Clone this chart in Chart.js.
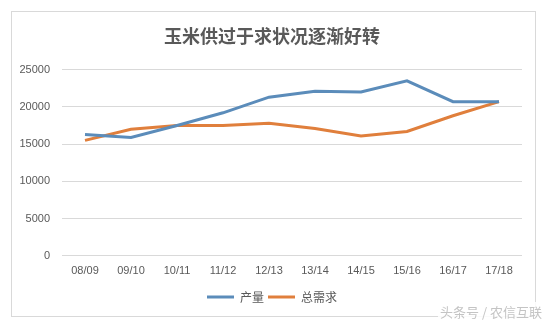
<!DOCTYPE html>
<html>
<head>
<meta charset="utf-8">
<script src="https://cdn.jsdelivr.net/npm/chart.js@4/dist/chart.umd.min.js"></script>
<style>
  html, body { margin: 0; padding: 0; background: #ffffff; }
  #wrap { position: relative; width: 544px; height: 325px; overflow: hidden; }
  #c { position: absolute; left: 0; top: 0; }
  #wm { position: absolute; left: 438px; top: 302px; font: 13px "Noto Sans CJK SC", sans-serif; color: #c4c4c4; background: rgba(255,255,255,0.85); padding: 0 2px; white-space: nowrap; }
</style>
</head>
<body>
<div id="wrap">
  <canvas id="c" width="544" height="325"></canvas>
  <div id="wm">头条号 / 农信互联</div>
</div>
<script>
const titleText = "玉米供过于求状况逐渐好转";
const categories = ["08/09", "09/10", "10/11", "11/12", "12/13", "13/14", "14/15", "15/16", "16/17", "17/18"];
const seriesNames = ["产量", "总需求"];
const production = [16300, 15900, 17500, 19200, 21300, 22100, 22000, 23500, 20700, 20700];
const demand = [15500, 17000, 17500, 17500, 17800, 17100, 16100, 16700, 18800, 20700];
const yTicks = [0, 5000, 10000, 15000, 20000, 25000];

const BLUE = "#5b8cba";
const ORANGE = "#e07f3c";

const framePlugin = {
  id: "frame",
  beforeDraw(chart) {
    const ctx = chart.ctx;
    ctx.save();
    ctx.fillStyle = "#ffffff";
    ctx.fillRect(0, 0, chart.width, chart.height);
    ctx.strokeStyle = "#d9d9d9";
    ctx.lineWidth = 1;
    ctx.strokeRect(11.5, 11.5, 524, 305);
    ctx.restore();
  }
};

new Chart(document.getElementById("c"), {
  type: "line",
  data: {
    labels: categories,
    datasets: [
      { label: seriesNames[0], data: production, borderColor: BLUE, backgroundColor: BLUE, borderWidth: 3, pointRadius: 0, tension: 0, fill: false },
      { label: seriesNames[1], data: demand, borderColor: ORANGE, backgroundColor: ORANGE, borderWidth: 3, pointRadius: 0, tension: 0, fill: false }
    ]
  },
  options: {
    responsive: false,
    animation: false,
    layout: { padding: { left: 11, right: 11, top: 0, bottom: 12 } },
    plugins: {
      title: {
        display: true,
        text: titleText,
        color: "#595959",
        font: { family: "'Noto Sans CJK SC', sans-serif", size: 18, weight: "bold" },
        padding: { top: 25, bottom: 23 }
      },
      legend: {
        position: "bottom",
        labels: {
          color: "#595959",
          font: { family: "'Noto Sans CJK SC', sans-serif", size: 12 },
          boxWidth: 27,
          boxHeight: 3,
          padding: 4,
          generateLabels(chart) {
            return chart.data.datasets.map((ds, i) => ({
              text: ds.label,
              fillStyle: ds.borderColor,
              strokeStyle: ds.borderColor,
              lineWidth: 0,
              hidden: false,
              datasetIndex: i,
              fontColor: "#595959"
            }));
          }
        }
      },
      tooltip: { enabled: false }
    },
    scales: {
      x: {
        offset: true,
        grid: { display: false, drawTicks: false, offset: true },
        border: { display: false },
        ticks: { color: "#595959", font: { family: "'Liberation Sans', sans-serif", size: 11 }, padding: 9, maxRotation: 0, autoSkip: false }
      },
      y: {
        min: 0,
        max: 25000,
        afterBuildTicks(scale) { scale.ticks = yTicks.map(v => ({ value: v })); },
        afterFit(scale) { scale.width = 51; },
        grid: { color: "#d9d9d9", drawTicks: false, lineWidth: 1 },
        border: { display: false },
        ticks: { color: "#595959", font: { family: "'Liberation Sans', sans-serif", size: 11 }, padding: 12, callback: (v) => String(v) }
      },
      yRight: {
        position: "right",
        display: true,
        afterFit(scale) { scale.width = 11; },
        grid: { display: false, drawTicks: false },
        border: { display: false },
        ticks: { display: false }
      }
    }
  },
  plugins: [framePlugin]
});
</script>
</body>
</html>
